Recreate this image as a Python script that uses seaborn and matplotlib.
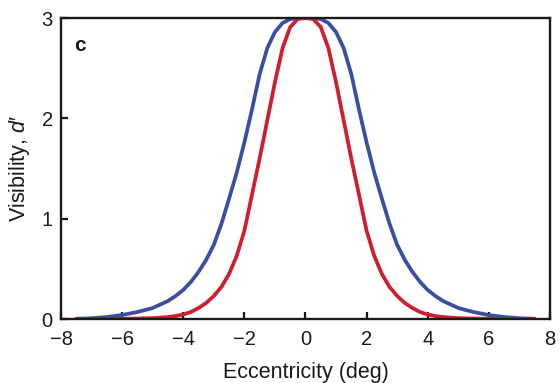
import numpy as np
import pandas as pd
import matplotlib
matplotlib.use("Agg")
import matplotlib.pyplot as plt
import seaborn as sns

# Eccentricity (deg) sample positions and read-off visibility values
ecc = [-7.5, -7.0, -6.5, -6.0, -5.5, -5.0, -4.5, -4.25, -4.0, -3.75, -3.5, -3.25,
       -3.0, -2.75, -2.5, -2.25, -2.0, -1.75, -1.5, -1.25, -1.0, -0.75, -0.5,
       -0.25, 0.0, 0.25, 0.5, 0.75, 1.0, 1.25, 1.5, 1.75, 2.0, 2.25, 2.5, 2.75,
       3.0, 3.25, 3.5, 3.75, 4.0, 4.25, 4.5, 5.0, 5.5, 6.0, 6.5, 7.0, 7.5]

blue = [0.003, 0.008, 0.02, 0.04, 0.07, 0.11, 0.18, 0.23, 0.29, 0.37, 0.47, 0.59,
        0.74, 0.95, 1.20, 1.46, 1.76, 2.09, 2.44, 2.70, 2.86, 2.95, 2.99,
        3.0, 3.0, 3.0, 2.99, 2.95, 2.86, 2.70, 2.44, 2.09, 1.76, 1.46, 1.20, 0.95,
        0.74, 0.59, 0.47, 0.37, 0.29, 0.23, 0.18, 0.11, 0.07, 0.04, 0.02, 0.008, 0.003]

red = [0.0, 0.001, 0.002, 0.003, 0.005, 0.009, 0.02, 0.03, 0.045, 0.07, 0.11, 0.16,
       0.23, 0.32, 0.45, 0.63, 0.88, 1.24, 1.60, 1.98, 2.36, 2.70, 2.91,
       2.99, 3.0, 2.99, 2.91, 2.70, 2.36, 1.98, 1.60, 1.24, 0.88, 0.63, 0.45, 0.32,
       0.23, 0.16, 0.11, 0.07, 0.045, 0.03, 0.02, 0.009, 0.005, 0.003, 0.002, 0.001, 0.0]

x_ticks = [-8, -6, -4, -2, 0, 2, 4, 6, 8]
y_ticks = [0, 1, 2, 3]

df = pd.DataFrame({
    "ecc": ecc * 2,
    "vis": blue + red,
    "cond": ["blue"] * len(ecc) + ["red"] * len(ecc),
})

sns.set_style("ticks")
plt.rcParams["font.family"] = ["Liberation Sans", "DejaVu Sans"]
plt.rcParams["mathtext.fontset"] = "custom"
plt.rcParams["mathtext.it"] = "Liberation Sans:italic"
plt.rcParams["mathtext.rm"] = "Liberation Sans"

fig = plt.figure(figsize=(5.6, 3.83), dpi=100)
ax = fig.add_axes([0.109, 0.167, 0.873, 0.786])

sns.lineplot(data=df, x="ecc", y="vis", hue="cond",
             palette={"blue": "#3a4ea3", "red": "#cf1f2e"},
             linewidth=2.7, legend=False, ax=ax, sort=False,
             estimator=None)

ax.set_xlim(-8, 8)
ax.set_ylim(0, 3)
ax.set_xticks(x_ticks)
ax.set_xticklabels([str(t).replace("-", "\u2212") for t in x_ticks])
ax.set_yticks(y_ticks)
ax.set_yticklabels([str(t) for t in y_ticks])

for side in ["top", "right", "left", "bottom"]:
    ax.spines[side].set_visible(True)
    ax.spines[side].set_linewidth(1.7)
    ax.spines[side].set_color("#1a1a1a")

ax.tick_params(axis="both", direction="in", length=5, width=1.6,
               labelsize=14.5, colors="#1a1a1a")
ax.tick_params(axis="x", pad=8)
ax.tick_params(axis="y", pad=6)

ax.set_xlabel("Eccentricity (deg)", fontsize=15.5, color="#1a1a1a", labelpad=9)
ax.set_ylabel("Visibility, $d$\u2032", fontsize=15.5, color="#1a1a1a", labelpad=7)

ax.text(0.027, 0.94, "c", transform=ax.transAxes, fontsize=15,
        fontweight="bold", va="top", ha="left", color="#1a1a1a")

fig.savefig("out.png", dpi=100)
